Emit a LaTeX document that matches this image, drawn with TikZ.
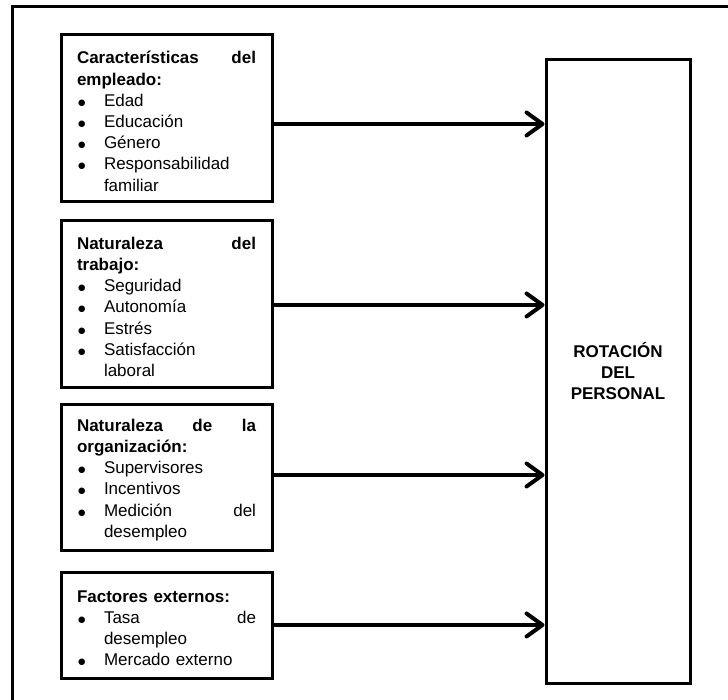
\documentclass[tikz,border=0pt]{standalone}
\usepackage{fontspec}
\setmainfont{Liberation Sans}
\newfontfamily\dotfont{DejaVu Sans}
\usetikzlibrary{arrows.meta}

% helpers for the list boxes: full-width heading lines, bullets, indents
\newcommand\topstrut{\rule{0pt}{18pt}}
\newcommand\jhead[1]{\leavevmode\topstrut\hbox to 179pt{\bfseries #1}}
\newcommand\bul{\leavevmode\hbox to 27pt{\hspace*{1pt}\raisebox{1pt}{\dotfont\fontsize{8.5pt}{10pt}\selectfont ●}\hfil}}
\newcommand\jitem[1]{\bul\hbox to 152pt{#1}}
\newcommand\cont{\leavevmode\hspace*{27pt}}

\tikzset{
  factor/.style={draw, line width=3pt, rectangle, minimum width=211pt,
    text width=179pt, inner xsep=16pt, inner ysep=0pt, align=left,
    font=\fontsize{17pt}{21.2pt}\selectfont},
  outcome/.style={draw, line width=3pt, rectangle, minimum width=144pt,
    minimum height=623pt, align=center,
    font=\fontsize{17pt}{21pt}\selectfont\bfseries},
  link/.style={line width=4pt, -{Straight Barb[length=16pt,width=23pt,round]}},
}

\begin{document}
\begin{tikzpicture}[x=1pt,y=-1pt]
\useasboundingbox (0,0) rectangle (728,700);

% outer frame
\draw[line width=3pt] (12,720) -- (12,7) -- (740,7);

\node[factor, minimum height=167pt] (b1) at (166.5,118.5)
  {\jhead{Características\hfill del}\\
   \textbf{empleado:}\\
   \bul Edad\\
   \bul Educación\\
   \bul Género\\
   \bul Responsabilidad\\
   \cont familiar};

\node[factor, minimum height=166pt] (b2) at (166.5,304)
  {\jhead{Naturaleza\hfill del}\\
   \textbf{trabajo:}\\
   \bul Seguridad\\
   \bul Autonomía\\
   \bul Estrés\\
   \bul Satisfacción\\
   \cont laboral};

\node[factor, minimum height=146pt] (b3) at (166.5,477)
  {\jhead{Naturaleza\hfill de\hfill la}\\
   \textbf{organización:}\\
   \bul Supervisores\\
   \bul Incentivos\\
   \jitem{Medición\hfill del}\\
   \cont desempleo};

\node[factor, minimum height=106pt] (b4) at (166.5,625)
  {\topstrut\textbf{Factores externos:}\\
   \jitem{Tasa\hfill de}\\
   \cont desempleo\\
   \bul Mercado externo};

\node[outcome] (rot) at (618,371.5) {ROTACIÓN\\DEL\\PERSONAL};

\draw[link] ([yshift=-5.5pt]b1.east) -- ([yshift=-5.5pt]b1.east -| rot.west);
\draw[link] ([yshift=-1pt]b2.east) -- ([yshift=-1pt]b2.east -| rot.west);
\draw[link] ([yshift=2pt]b3.east) -- ([yshift=2pt]b3.east -| rot.west);
\draw[link] (b4.east) -- (b4.east -| rot.west);
\end{tikzpicture}
\end{document}
